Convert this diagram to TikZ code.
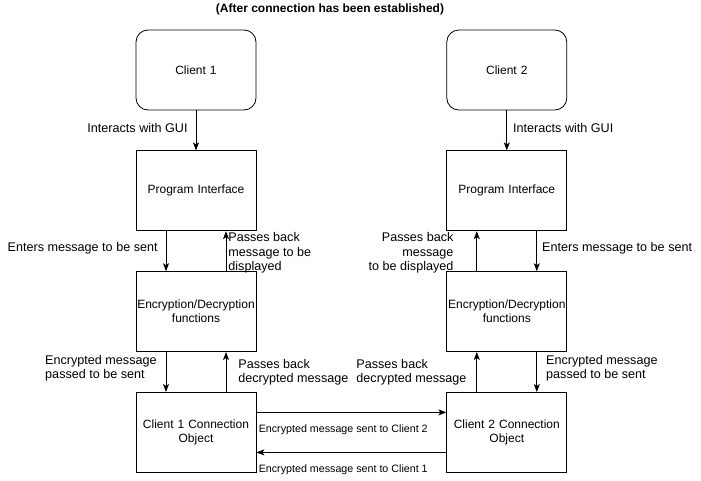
\documentclass[tikz,border=0pt]{standalone}
\usepackage{fontspec}
\setmainfont{Liberation Sans}
\usetikzlibrary{arrows.meta,positioning}

\begin{document}
\begin{tikzpicture}[
  x=1pt,y=1pt,
  node distance=40pt,
  box/.style={draw,line width=0.8pt,text width=118pt,minimum height=80pt,inner xsep=1pt,align=center,font=\fontsize{12}{14}\selectfont},
  lbl/.style={font=\fontsize{12.6}{14.5}\selectfont,inner sep=0pt},
  small/.style={font=\fontsize{10.7}{12}\selectfont,inner sep=0pt},
  arr/.style={-{Stealth[length=8pt,width=6pt,inset=2pt]},line width=0.8pt}
]
\useasboundingbox (0,0) rectangle (701,-481);
\node[font=\bfseries\fontsize{12}{14}\selectfont] (title) at (330,-9) {(After connection has been established)};
% client 1 side
\node[box,rounded corners=12pt] (cl1) at (196,-70) {Client 1};
\node[box,below=of cl1] (gui1) {Program Interface};
\node[box,below=of gui1] (enc1) {Encryption/Decryption\\functions};
\node[box,below=of enc1] (con1) {Client 1 Connection\\Object};
% client 2 side
\node[box,rounded corners=12pt,right=190pt of cl1] (cl2) {Client 2};
\node[box,below=of cl2] (gui2) {Program Interface};
\node[box,below=of gui2] (enc2) {Encryption/Decryption\\functions};
\node[box,below=of enc2] (con2) {Client 2 Connection\\Object};
% left column arrows
\draw[arr] (cl1) -- (gui1) node[lbl,midway,left=8pt,yshift=2pt] {Interacts with GUI};
\draw[arr] ([xshift=-30pt]gui1.south) -- ([xshift=-30pt]enc1.north) node[lbl,midway,left=8pt,yshift=3pt] {Enters message to be sent};
\draw[arr] ([xshift=30pt]enc1.north) -- ([xshift=30pt]gui1.south) node[lbl,midway,right=2pt,align=left,yshift=-2pt] {Passes back\\message to be\\displayed};
\draw[arr] ([xshift=-30pt]enc1.south) -- ([xshift=-30pt]con1.north) node[lbl,midway,left=9pt,align=left,yshift=4pt] {Encrypted message\\passed to be sent};
\draw[arr] ([xshift=30pt]con1.north) -- ([xshift=30pt]enc1.south) node[lbl,midway,right=12pt,align=left] {Passes back\\decrypted message};
% right column arrows
\draw[arr] (cl2) -- (gui2) node[lbl,midway,right=6pt,yshift=2pt] {Interacts with GUI};
\draw[arr] ([xshift=30pt]gui2.south) -- ([xshift=30pt]enc2.north) node[lbl,midway,right=5pt,yshift=3pt] {Enters message to be sent};
\draw[arr] ([xshift=-30pt]enc2.north) -- ([xshift=-30pt]gui2.south) node[lbl,midway,left=23pt,align=right,yshift=-2pt] {Passes back\\message\\to be displayed};
\draw[arr] ([xshift=30pt]enc2.south) -- ([xshift=30pt]con2.north) node[lbl,midway,right=9pt,align=left,yshift=4pt] {Encrypted message\\passed to be sent};
\draw[arr] ([xshift=-30pt]con2.north) -- ([xshift=-30pt]enc2.south) node[lbl,midway,left=10pt,align=left] {Passes back\\decrypted message};
% between the connection objects
\draw[arr] ([yshift=20pt]con1.east) -- ([yshift=20pt]con2.west) node[small,pos=0,anchor=west,xshift=2pt,yshift=-17pt] {Encrypted message sent to Client 2};
\draw[arr] ([yshift=-20pt]con2.west) -- ([yshift=-20pt]con1.east) node[small,pos=1,anchor=west,xshift=2pt,yshift=-17pt] {Encrypted message sent to Client 1};
\end{tikzpicture}
\end{document}
